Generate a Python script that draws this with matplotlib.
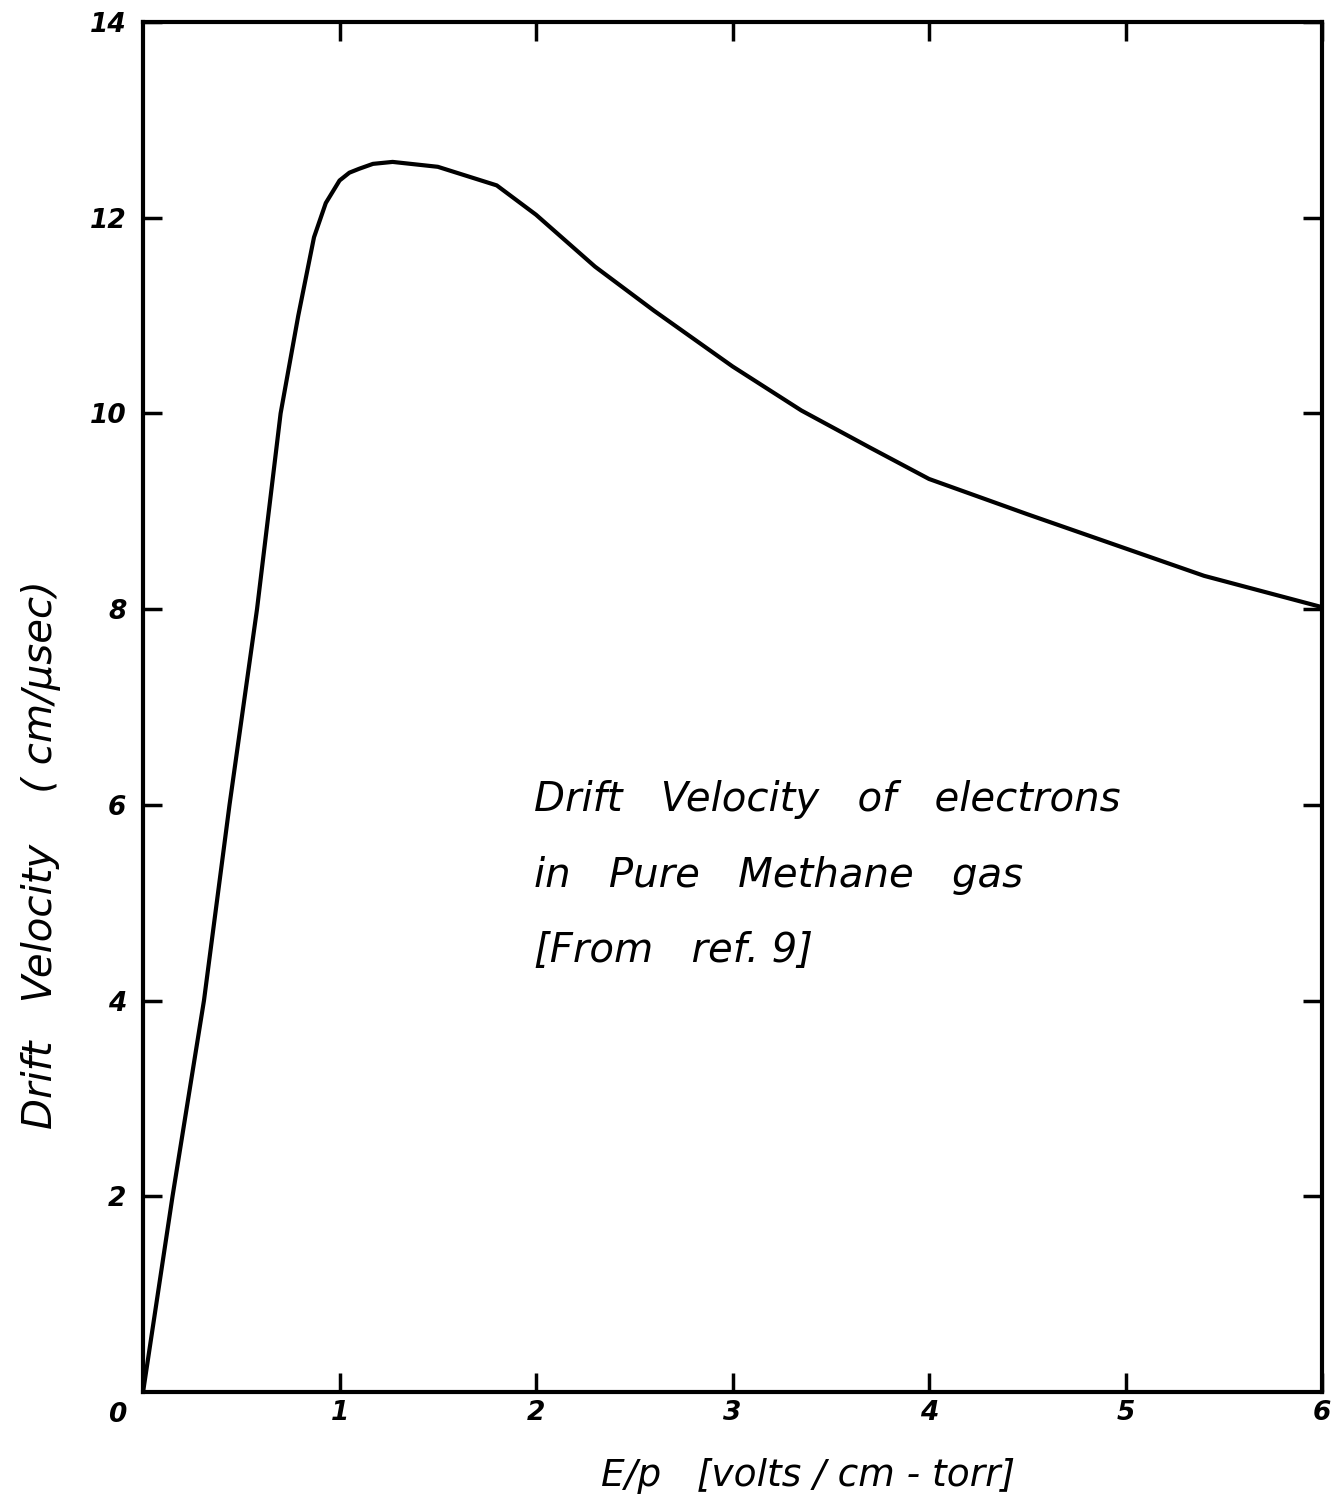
import numpy as np
import matplotlib.pyplot as plt

# drift velocity of electrons in pure methane
ep = [0, 0.15, 0.31, 0.44, 0.58, 0.70, 0.79, 0.87, 0.93, 1.0, 1.05, 1.1, 1.17,
      1.27, 1.5, 1.8, 2.0, 2.3, 2.6, 3.0, 3.35, 3.7, 4.0, 4.5, 5.0, 5.4, 6.0]
vd = [0, 2.0, 4.0, 6.0, 8.0, 10.0, 11.0, 11.8, 12.15, 12.38, 12.46, 12.5, 12.55,
      12.57, 12.52, 12.33, 12.03, 11.5, 11.05, 10.48, 10.03, 9.65, 9.33, 8.97, 8.62, 8.34, 8.02]

xticks = [0, 1, 2, 3, 4, 5, 6]
yticks = [2, 4, 6, 8, 10, 12, 14]
note = ["Drift   Velocity   of   electrons", "in   Pure   Methane   gas", "[From   ref. 9]"]

plt.rcParams['font.family'] = ['DejaVu Sans']
fig = plt.figure(figsize=(13.37, 15.05), dpi=100)
ax = fig.add_axes([0.107, 0.0751, 0.8818, 0.9103])

ax.plot(ep, vd, color='black', lw=3)
ax.set_xlim(0, 6)
ax.set_ylim(0, 14)

for s in ax.spines.values():
    s.set_linewidth(3)

ax.set_xticks(xticks[1:])
ax.set_yticks(yticks)
ax.tick_params(direction='in', length=14, width=2.5, top=True, right=True,
               labelsize=19, pad=12)
ax.tick_params(axis='x', pad=6)
for lab in ax.get_xticklabels() + ax.get_yticklabels():
    lab.set_fontweight('bold')
    lab.set_fontstyle('italic')
ax.text(-0.13, -0.1, "0", fontsize=19, fontweight='bold', fontstyle='italic',
        ha='center', va='top')

ax.set_xlabel("E/p   [volts / cm - torr]", fontsize=27, fontstyle='italic')
ax.xaxis.set_label_coords(0.564, -0.048)
ax.set_ylabel("Drift   Velocity    ( cm/μsec)", fontsize=29, fontstyle='italic')
ax.yaxis.set_label_coords(-0.07, 0.392)

for i, t in enumerate(note):
    ax.text(1.99, 6.05 - 0.77 * i, t, fontsize=29, fontstyle='italic',
            ha='left', va='center')

fig.savefig("out.png", dpi=100)
